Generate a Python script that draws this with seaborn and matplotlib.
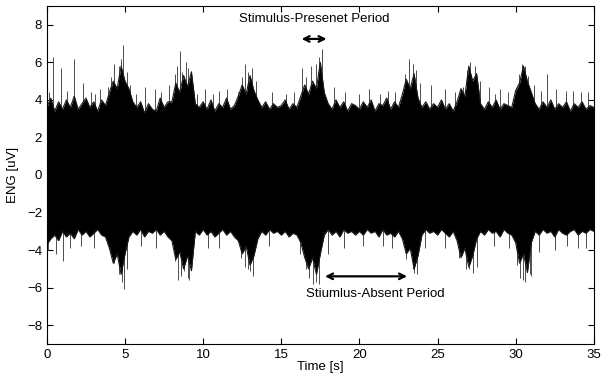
import numpy as np
import pandas as pd
import matplotlib
matplotlib.use("Agg")
import matplotlib.pyplot as plt
import seaborn as sns

# envelope of the ENG trace, one value every 0.25 s
time_s = np.arange(0, 35.01, 0.25)
upper_uv = [
    3.6, 4.1, 3.4, 3.9, 3.5, 4.0, 3.6, 4.2, 3.5, 3.8, 4.1, 3.6, 3.9, 3.4, 4.0, 3.7, 4.4, 5.0, 4.6, 5.8,
    5.0, 4.6, 3.9, 3.6, 3.9, 3.3, 3.8, 3.5, 3.4, 4.1, 3.6, 3.9, 3.9, 4.9, 4.4, 5.3, 4.7, 5.5, 3.8, 3.6,
    3.9, 3.5, 4.0, 3.4, 3.8, 3.6, 4.1, 3.5, 3.7, 4.2, 4.8, 4.3, 5.3, 4.5, 4.0, 3.6, 3.9, 3.5, 3.8, 3.6,
    3.7, 4.0, 3.5, 3.8, 3.6, 4.2, 4.8, 4.3, 5.0, 4.6, 6.0, 4.4, 3.8, 3.5, 4.0, 3.6, 3.9, 3.4, 3.8, 3.7,
    3.5, 3.9, 3.6, 4.0, 3.4, 3.8, 3.7, 4.1, 3.5, 3.9, 3.6, 4.3, 5.1, 4.6, 5.4, 4.1, 3.6, 3.9, 3.5, 3.8,
    3.6, 4.0, 3.5, 3.8, 3.4, 3.9, 4.6, 4.2, 5.8, 5.0, 5.4, 3.8, 3.5, 3.9, 3.6, 4.0, 3.5, 3.8, 3.7, 3.6,
    4.5, 4.9, 5.8, 5.0, 4.4, 3.8, 3.5, 3.9, 3.6, 4.0, 3.5, 3.8, 3.6, 3.9, 3.4, 3.8, 3.6, 3.9, 3.5, 3.7, 3.6,
]
lower_uv = [
    -3.7, -3.4, -3.2, -3.5, -3.0, -3.3, -3.1, -3.4, -2.9, -3.2, -3.0, -3.3, -3.1, -2.9, -3.2, -3.3, -3.9, -4.7, -4.2, -5.3,
    -4.2, -3.3, -3.0, -3.2, -2.9, -3.3, -3.0, -3.1, -2.9, -3.2, -3.0, -3.3, -3.5, -4.5, -4.1, -5.0, -4.3, -5.1, -3.0, -3.2,
    -2.9, -3.2, -3.0, -3.3, -3.1, -2.9, -3.2, -3.0, -3.3, -3.5, -4.2, -3.8, -4.8, -4.3, -3.4, -3.0, -3.2, -2.9, -3.1, -3.0,
    -3.2, -3.0, -3.3, -3.1, -3.2, -3.6, -4.4, -5.0, -4.4, -5.3, -4.2, -3.2, -2.9, -3.2, -3.0, -3.3, -2.9, -3.1, -3.0, -3.2,
    -3.0, -3.2, -2.9, -3.1, -3.0, -3.3, -2.9, -3.2, -3.1, -3.3, -3.0, -3.4, -4.2, -3.9, -5.0, -4.3, -3.2, -2.9, -3.1, -3.0,
    -3.2, -2.9, -3.1, -3.3, -3.0, -3.5, -4.4, -3.9, -4.9, -4.3, -3.4, -3.0, -3.2, -2.9, -3.1, -3.0, -3.3, -2.9, -3.1, -3.2,
    -3.6, -4.7, -4.2, -5.2, -3.6, -3.0, -3.2, -2.9, -3.1, -3.0, -3.3, -2.9, -3.1, -3.2, -3.0, -2.9, -3.2, -3.0, -3.1, -2.9, -3.0,
]

# isolated peaks sticking out of the envelope
up_spike_t = [0.4, 0.9, 1.75, 2.3, 3.4, 4.3, 4.6, 4.9, 5.3, 6.3, 6.9, 7.8, 8.2, 8.5, 9.0, 10.1, 11.0,
              12.7, 13.1, 14.4, 16.3, 16.9, 17.6, 19.1, 20.6, 21.3, 22.9, 23.2, 23.6, 24.6, 25.5,
              26.1, 27.1, 28.3, 29.0, 30.4, 30.8, 32.0, 33.2, 34.2,
              0.15, 1.3, 2.8, 3.1, 3.9, 4.1, 4.75, 5.1, 5.7, 7.3, 8.35, 8.65, 8.9, 9.2, 9.6, 10.6,
              11.5, 12.2, 12.5, 12.9, 13.4, 15.3, 15.8, 16.6, 17.2, 17.4, 18.4, 20.0, 21.8, 22.3,
              23.4, 23.9, 26.6, 26.9, 27.4, 27.7, 28.7, 29.5, 30.2, 30.6, 31.2, 31.6, 32.6, 33.7, 34.6]
up_spike_v = [6.3, 5.7, 6.2, 4.9, 4.6, 5.9, 5.8, 6.9, 4.8, 4.7, 4.6, 4.8, 5.4, 6.6, 5.7, 4.6, 4.5,
              5.9, 5.7, 4.4, 5.7, 5.8, 6.7, 4.4, 4.6, 4.3, 5.4, 6.2, 5.6, 4.8, 4.6,
              4.4, 6.0, 4.7, 4.6, 5.9, 5.3, 5.4, 4.5, 4.4,
              4.4, 4.5, 4.4, 4.3, 4.7, 5.2, 6.2, 5.5, 4.3, 4.4, 5.8, 5.5, 6.0, 5.4, 4.3, 4.3,
              4.6, 4.4, 5.2, 5.5, 5.0, 4.3, 4.4, 5.2, 5.9, 6.3, 4.7, 4.3, 4.5, 4.4,
              5.9, 4.9, 4.7, 5.6, 5.8, 5.0, 4.3, 4.4, 5.4, 5.8, 4.8, 4.5, 4.6, 4.5, 4.4]
low_spike_t = [0.1, 1.0, 1.5, 4.6, 4.95, 8.4, 8.8, 9.1, 11.0, 12.9, 13.2, 16.6, 17.0, 17.4, 19.0,
               21.5, 23.4, 23.7, 25.5, 27.0, 27.3, 30.3, 30.6, 31.0, 32.5, 34.0,
               0.6, 2.2, 3.0, 4.3, 4.8, 5.1, 6.0, 7.0, 8.2, 8.6, 9.0, 10.3, 12.4, 12.7, 13.0, 14.2,
               16.2, 16.8, 17.2, 18.0, 20.2, 22.1, 23.0, 23.5, 24.2, 26.4, 26.8, 27.5, 28.6, 29.6,
               30.1, 30.45, 30.9, 31.5, 33.3, 34.5]
low_spike_v = [-4.0, -4.6, -3.9, -5.3, -6.1, -5.6, -5.1, -5.6, -3.9, -5.0, -5.4, -5.0, -5.8, -5.8, -3.9,
               -3.8, -5.0, -5.3, -3.9, -5.0, -5.2, -5.5, -5.7, -5.4, -4.0, -3.9,
               -4.2, -3.8, -3.9, -4.7, -5.7, -5.0, -3.8, -3.9, -4.6, -5.4, -5.5, -3.9, -4.4, -4.9, -5.1, -3.8,
               -4.2, -5.5, -5.7, -4.2, -3.8, -3.9, -4.5, -5.2, -3.9, -4.4, -5.0, -4.9, -3.8, -3.9,
               -4.8, -5.6, -5.3, -4.1, -3.8, -3.9]

df = pd.DataFrame({"t": time_s, "upper": upper_uv, "lower": lower_uv})

sns.set_style("ticks")
plt.rcParams["font.family"] = ["Liberation Sans", "DejaVu Sans"]
plt.rcParams["text.color"] = "black"
plt.rcParams["axes.labelcolor"] = "black"
plt.rcParams["xtick.color"] = "black"
plt.rcParams["ytick.color"] = "black"
plt.rcParams["axes.edgecolor"] = "black"

fig = plt.figure(figsize=(6.01, 3.8), dpi=100)
ax = fig.add_axes([0.078, 0.095, 0.91, 0.889])

ax.vlines(up_spike_t, 0, up_spike_v, color="0.3", lw=0.7, zorder=1)
ax.vlines(low_spike_t, low_spike_v, 0, color="0.3", lw=0.7, zorder=1)
ax.fill_between(df["t"], df["lower"], df["upper"], color="black", lw=0, zorder=2)
sns.lineplot(data=df, x="t", y="upper", ax=ax, color="0.1", lw=0.8, zorder=2)
sns.lineplot(data=df, x="t", y="lower", ax=ax, color="0.1", lw=0.8, zorder=2)

ax.set_xlim(0, 35)
ax.set_ylim(-9, 9)
ax.set_xticks(range(0, 36, 5))
ax.set_yticks(range(-8, 9, 2))
ax.tick_params(direction="in", top=True, right=True, labelsize=9.5, length=4, width=0.8)
for s in ax.spines.values():
    s.set_linewidth(0.8)
ax.set_xlabel("Time [s]", fontsize=9.5, labelpad=0)
ax.set_ylabel("ENG [uV]", fontsize=9.5, labelpad=6)

arrow = dict(arrowstyle="<->", color="black", lw=1.6, shrinkA=0, shrinkB=0)
ax.annotate("", xy=(16.3, 7.25), xytext=(17.9, 7.25), arrowprops=arrow)
ax.text(17.1, 8.3, "Stimulus-Presenet Period", ha="center", va="center", fontsize=9.5)
ax.annotate("", xy=(17.8, -5.4), xytext=(23.05, -5.4), arrowprops=arrow)
ax.text(21.0, -6.35, "Stiumlus-Absent Period", ha="center", va="center", fontsize=9.5)

fig.savefig("out.png", dpi=100)
